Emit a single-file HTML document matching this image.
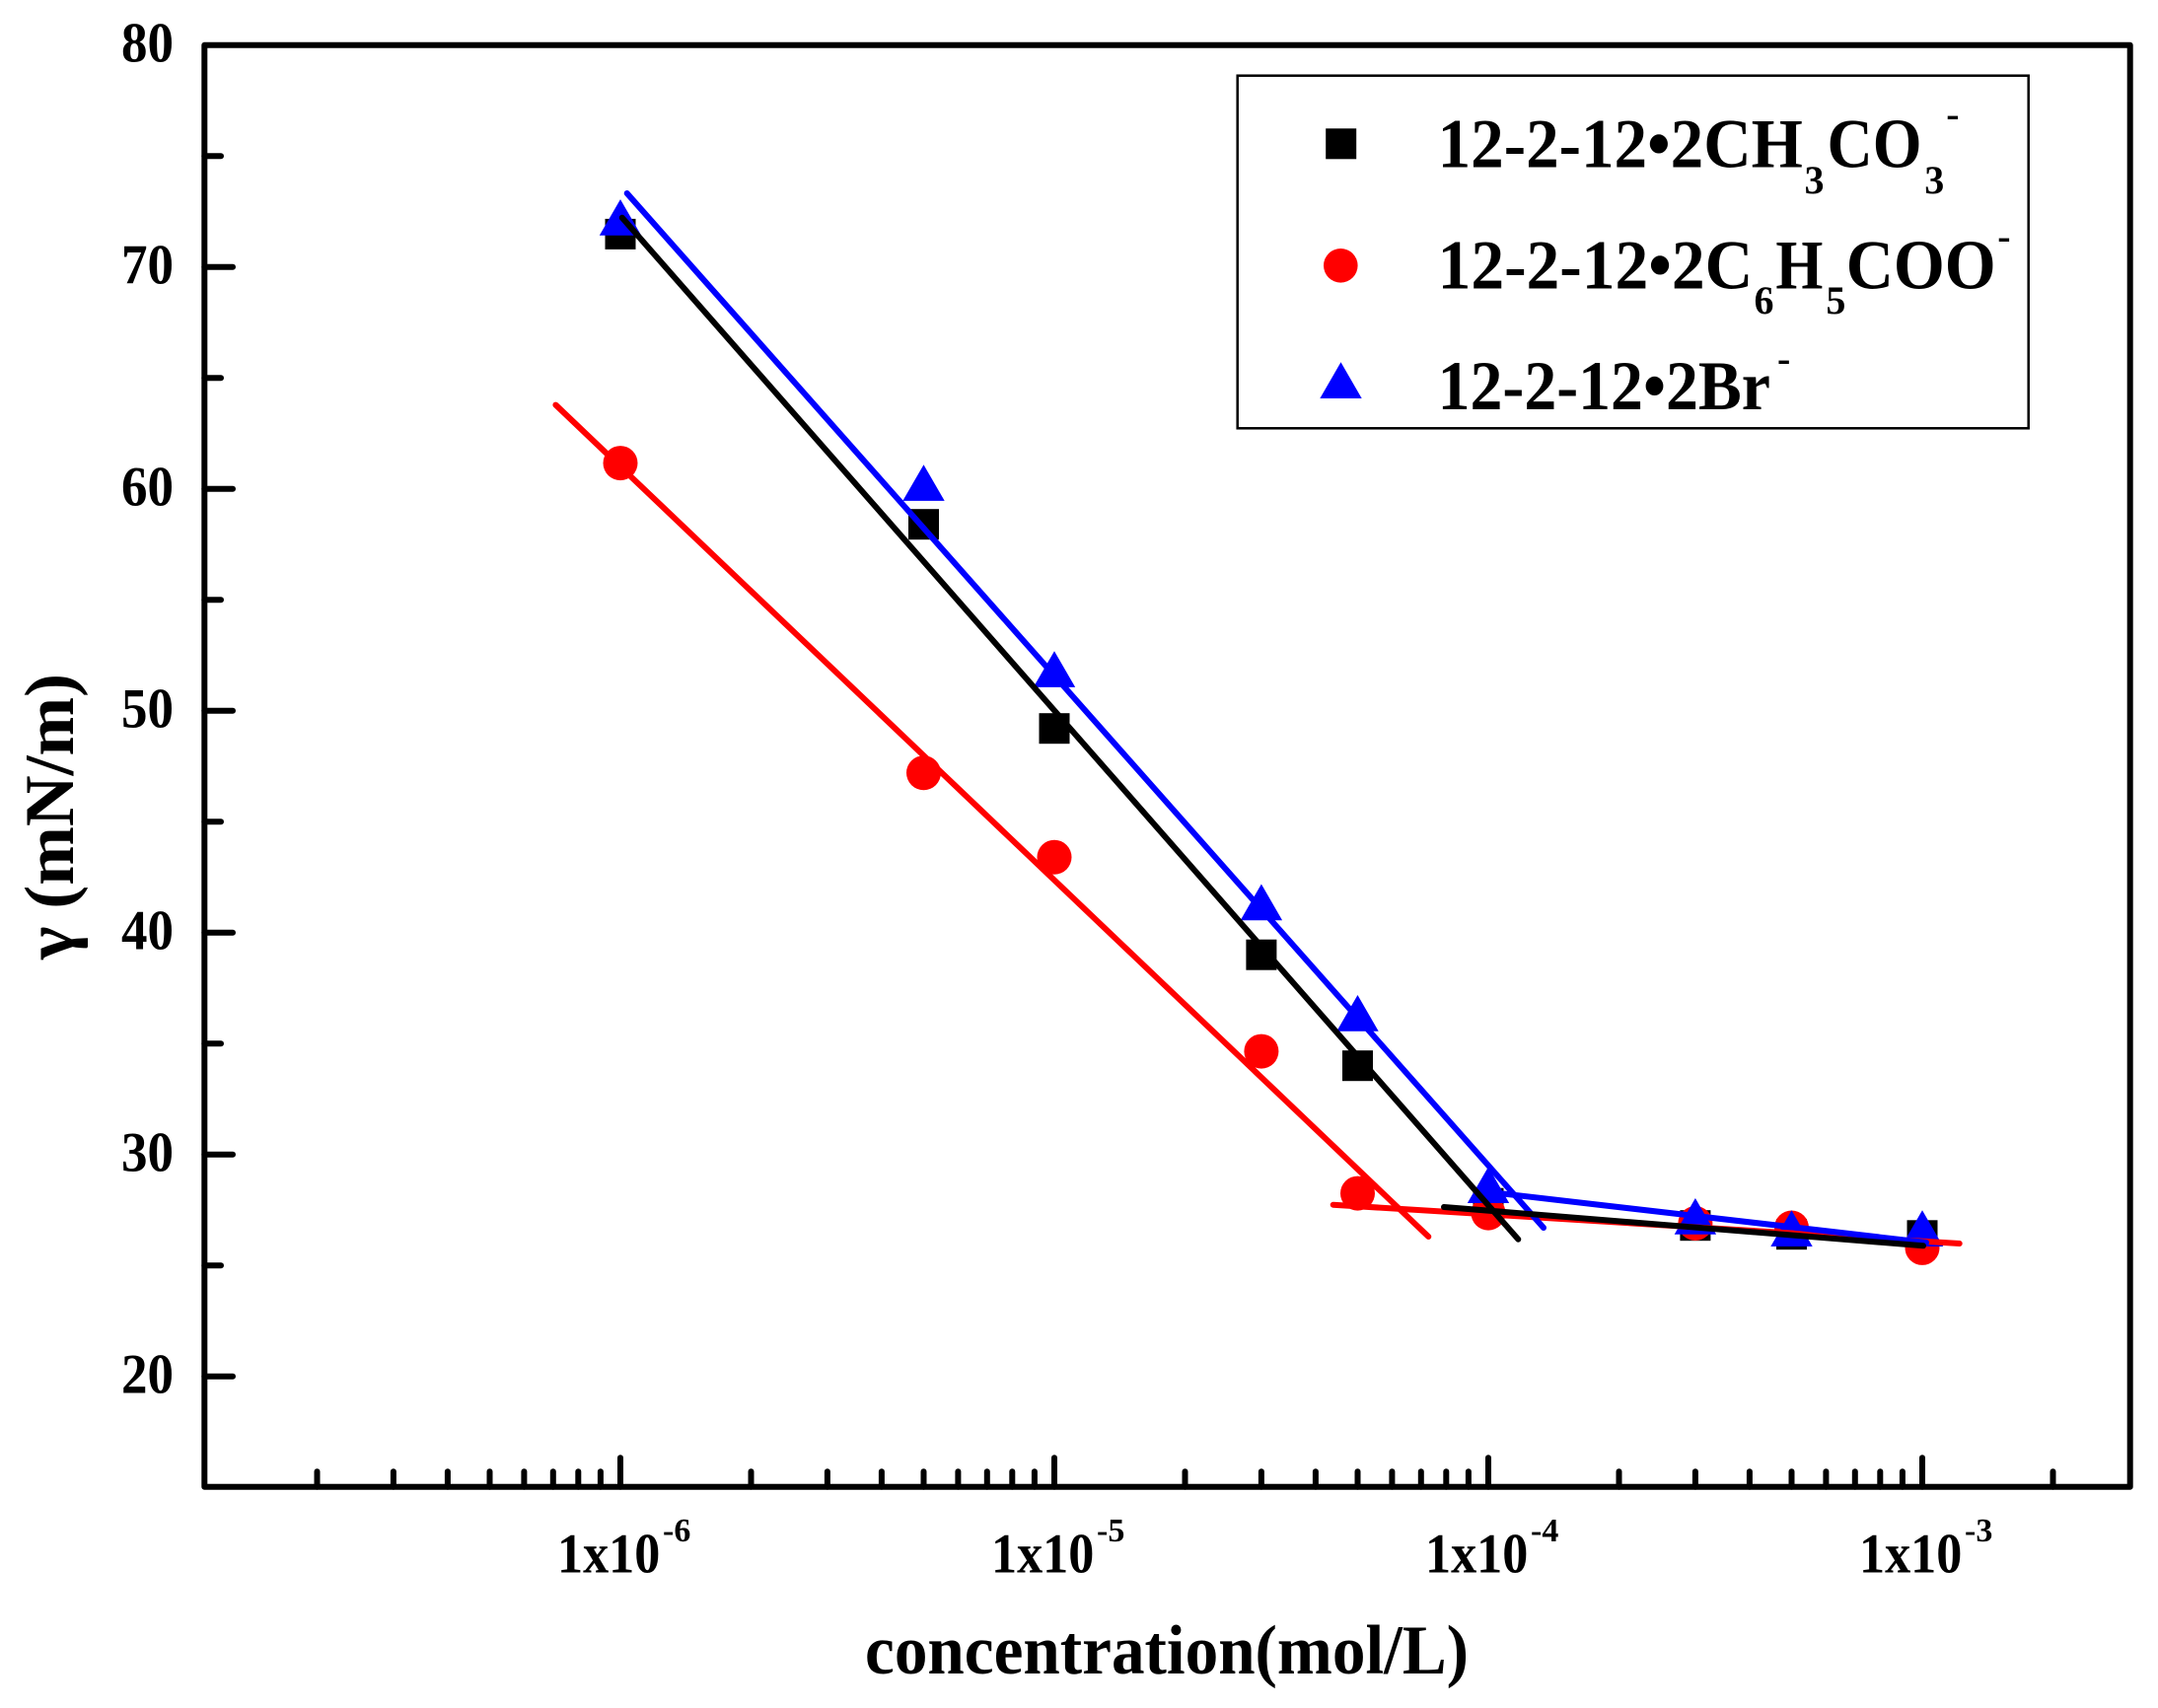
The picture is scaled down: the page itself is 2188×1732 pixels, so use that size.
<!DOCTYPE html>
<html><head><meta charset="utf-8"><style>
html,body{margin:0;padding:0;background:#fff;}
svg{display:block;}
text{font-family:"Liberation Serif","Times New Roman",serif;font-weight:bold;fill:#000;}
</style></head><body>
<svg xmlns="http://www.w3.org/2000/svg" width="2188" height="1732" viewBox="0 0 2188 1732">
<rect x="0" y="0" width="2188" height="1732" fill="#fff"/>

<!-- Y ticks -->
<g stroke="#000" stroke-width="6" stroke-linecap="round">
<line x1="207.3" y1="270.7" x2="236" y2="270.7"/>
<line x1="207.3" y1="495.7" x2="236" y2="495.7"/>
<line x1="207.3" y1="720.7" x2="236" y2="720.7"/>
<line x1="207.3" y1="945.7" x2="236" y2="945.7"/>
<line x1="207.3" y1="1170.7" x2="236" y2="1170.7"/>
<line x1="207.3" y1="1395.7" x2="236" y2="1395.7"/>
<line x1="207.3" y1="158.2" x2="224" y2="158.2"/>
<line x1="207.3" y1="383.2" x2="224" y2="383.2"/>
<line x1="207.3" y1="608.2" x2="224" y2="608.2"/>
<line x1="207.3" y1="833.2" x2="224" y2="833.2"/>
<line x1="207.3" y1="1058.2" x2="224" y2="1058.2"/>
<line x1="207.3" y1="1283.2" x2="224" y2="1283.2"/>
</g>

<!-- X ticks -->
<g stroke="#000" stroke-width="6" stroke-linecap="round">
<line x1="629" y1="1507.7" x2="629" y2="1478.3"/>
<line x1="1069" y1="1507.7" x2="1069" y2="1478.3"/>
<line x1="1509" y1="1507.7" x2="1509" y2="1478.3"/>
<line x1="1949" y1="1507.7" x2="1949" y2="1478.3"/>
<line x1="321.5" y1="1507.7" x2="321.5" y2="1492.3"/>
<line x1="398.9" y1="1507.7" x2="398.9" y2="1492.3"/>
<line x1="453.9" y1="1507.7" x2="453.9" y2="1492.3"/>
<line x1="496.5" y1="1507.7" x2="496.5" y2="1492.3"/>
<line x1="531.4" y1="1507.7" x2="531.4" y2="1492.3"/>
<line x1="560.8" y1="1507.7" x2="560.8" y2="1492.3"/>
<line x1="586.3" y1="1507.7" x2="586.3" y2="1492.3"/>
<line x1="608.9" y1="1507.7" x2="608.9" y2="1492.3"/>
<line x1="761.5" y1="1507.7" x2="761.5" y2="1492.3"/>
<line x1="838.9" y1="1507.7" x2="838.9" y2="1492.3"/>
<line x1="893.9" y1="1507.7" x2="893.9" y2="1492.3"/>
<line x1="936.5" y1="1507.7" x2="936.5" y2="1492.3"/>
<line x1="971.4" y1="1507.7" x2="971.4" y2="1492.3"/>
<line x1="1000.8" y1="1507.7" x2="1000.8" y2="1492.3"/>
<line x1="1026.3" y1="1507.7" x2="1026.3" y2="1492.3"/>
<line x1="1048.9" y1="1507.7" x2="1048.9" y2="1492.3"/>
<line x1="1201.5" y1="1507.7" x2="1201.5" y2="1492.3"/>
<line x1="1278.9" y1="1507.7" x2="1278.9" y2="1492.3"/>
<line x1="1333.9" y1="1507.7" x2="1333.9" y2="1492.3"/>
<line x1="1376.5" y1="1507.7" x2="1376.5" y2="1492.3"/>
<line x1="1411.4" y1="1507.7" x2="1411.4" y2="1492.3"/>
<line x1="1440.8" y1="1507.7" x2="1440.8" y2="1492.3"/>
<line x1="1466.3" y1="1507.7" x2="1466.3" y2="1492.3"/>
<line x1="1488.9" y1="1507.7" x2="1488.9" y2="1492.3"/>
<line x1="1641.5" y1="1507.7" x2="1641.5" y2="1492.3"/>
<line x1="1718.9" y1="1507.7" x2="1718.9" y2="1492.3"/>
<line x1="1773.9" y1="1507.7" x2="1773.9" y2="1492.3"/>
<line x1="1816.5" y1="1507.7" x2="1816.5" y2="1492.3"/>
<line x1="1851.4" y1="1507.7" x2="1851.4" y2="1492.3"/>
<line x1="1880.8" y1="1507.7" x2="1880.8" y2="1492.3"/>
<line x1="1906.3" y1="1507.7" x2="1906.3" y2="1492.3"/>
<line x1="1928.9" y1="1507.7" x2="1928.9" y2="1492.3"/>
<line x1="2081.5" y1="1507.7" x2="2081.5" y2="1492.3"/>
</g>

<!-- Frame -->
<rect x="207.3" y="45.7" width="1952.4" height="1462" fill="none" stroke="#000" stroke-width="6" stroke-linejoin="round"/>

<!-- Y tick labels -->
<g font-size="57" text-anchor="end">
<text x="176" y="62.5" textLength="53" lengthAdjust="spacingAndGlyphs">80</text>
<text x="176" y="287.5" textLength="53" lengthAdjust="spacingAndGlyphs">70</text>
<text x="176" y="512.5" textLength="53" lengthAdjust="spacingAndGlyphs">60</text>
<text x="176" y="737.5" textLength="53" lengthAdjust="spacingAndGlyphs">50</text>
<text x="176" y="962.5" textLength="53" lengthAdjust="spacingAndGlyphs">40</text>
<text x="176" y="1187.5" textLength="53" lengthAdjust="spacingAndGlyphs">30</text>
<text x="176" y="1412.5" textLength="53" lengthAdjust="spacingAndGlyphs">20</text>
</g>

<!-- X tick labels -->
<g>
<text x="565" y="1594.3" font-size="57" textLength="104.3" lengthAdjust="spacingAndGlyphs">1x10</text>
<text x="672" y="1563" font-size="34">-6</text>
<text x="1005" y="1594.3" font-size="57" textLength="104.3" lengthAdjust="spacingAndGlyphs">1x10</text>
<text x="1112" y="1563" font-size="34">-5</text>
<text x="1445" y="1594.3" font-size="57" textLength="104.3" lengthAdjust="spacingAndGlyphs">1x10</text>
<text x="1552" y="1563" font-size="34">-4</text>
<text x="1885" y="1594.3" font-size="57" textLength="104.3" lengthAdjust="spacingAndGlyphs">1x10</text>
<text x="1992" y="1563" font-size="34">-3</text>
</g>

<!-- Axis titles -->
<text x="877" y="1697" font-size="71" textLength="612" lengthAdjust="spacingAndGlyphs">concentration(mol/L)</text>
<text transform="translate(74,828) rotate(-90)" x="0" y="0" font-size="71" text-anchor="middle" textLength="290" lengthAdjust="spacingAndGlyphs">γ (mN/m)</text>

<!-- Markers: black squares -->
<g fill="#000">
<rect x="613.5" y="221.9" width="31" height="31"/>
<rect x="921" y="516.2" width="31" height="31"/>
<rect x="1053.5" y="723.2" width="31" height="31"/>
<rect x="1263.4" y="952.7" width="31" height="31"/>
<rect x="1361" y="1065.2" width="31" height="31"/>
<rect x="1493.5" y="1204.7" width="31" height="31"/>
<rect x="1703.4" y="1227.2" width="31" height="31"/>
<rect x="1801" y="1236.2" width="31" height="31"/>
<rect x="1933.5" y="1237.3" width="31" height="31"/>
</g>
<!-- red circles -->
<g fill="#ff0000">
<circle cx="629" cy="469.6" r="17.5"/>
<circle cx="936.5" cy="783.7" r="17.5"/>
<circle cx="1069" cy="869.2" r="17.5"/>
<circle cx="1278.9" cy="1066.1" r="17.5"/>
<circle cx="1376.5" cy="1210.1" r="17.5"/>
<circle cx="1509" cy="1230.1" r="17.5"/>
<circle cx="1718.9" cy="1240.5" r="17.5"/>
<circle cx="1816.5" cy="1245" r="17.5"/>
<circle cx="1949" cy="1265.4" r="17.5"/>
</g>
<!-- blue triangles -->
<g fill="#0000ff">
<path d="M629,202.1 L650.2,238.8 L607.8,238.8 Z"/>
<path d="M936.5,471.2 L957.7,507.9 L915.3,507.9 Z"/>
<path d="M1069,660.2 L1090.2,696.9 L1047.8,696.9 Z"/>
<path d="M1278.9,896.5 L1300.1,933.2 L1257.7,933.2 Z"/>
<path d="M1376.5,1009 L1397.7,1045.7 L1355.3,1045.7 Z"/>
<path d="M1509,1183.3 L1530.2,1220 L1487.8,1220 Z"/>
<path d="M1718.9,1215 L1740.1,1251.7 L1697.7,1251.7 Z"/>
<path d="M1816.5,1227.3 L1837.7,1264 L1795.3,1264 Z"/>
<path d="M1949,1227.3 L1970.2,1264 L1927.8,1264 Z"/>
</g>

<!-- Fit lines -->
<g stroke-width="6" stroke-linecap="round" fill="none">
<line x1="563.4" y1="410.6" x2="1448.3" y2="1254" stroke="#ff0000"/>
<line x1="1351.7" y1="1221.7" x2="1986.7" y2="1261" stroke="#ff0000"/>
<line x1="635.7" y1="196" x2="1565" y2="1245" stroke="#0000ff"/>
<line x1="1515" y1="1209.5" x2="1953" y2="1260" stroke="#0000ff"/>
<line x1="630.8" y1="220.8" x2="1539.3" y2="1256.7" stroke="#000"/>
<line x1="1464" y1="1224" x2="1950" y2="1263.3" stroke="#000"/>
</g>

<!-- Legend -->
<rect x="1254.7" y="76.7" width="802" height="357.6" fill="#fff" stroke="#000" stroke-width="2.5"/>
<rect x="1344.2" y="130.3" width="31" height="31" fill="#000"/>
<circle cx="1359.3" cy="269.3" r="17.3" fill="#ff0000"/>
<path d="M1359.5,367.3 L1380.7,404 L1338.3,404 Z" fill="#0000ff"/>

<g>
<text x="1457.6" y="169.3" font-size="71" textLength="370.3" lengthAdjust="spacingAndGlyphs">12-2-12•2CH</text>
<text x="1829.5" y="196" font-size="40">3</text>
<text x="1852.5" y="169.3" font-size="71" textLength="96" lengthAdjust="spacingAndGlyphs">CO</text>
<text x="1951.3" y="196" font-size="40">3</text>
<text x="1973.2" y="129" font-size="40">-</text>

<text x="1457.6" y="292.3" font-size="71" textLength="319.8" lengthAdjust="spacingAndGlyphs">12-2-12•2C</text>
<text x="1778.5" y="318" font-size="40">6</text>
<text x="1800.4" y="292.3" font-size="71" textLength="48" lengthAdjust="spacingAndGlyphs">H</text>
<text x="1851.4" y="318" font-size="40">5</text>
<text x="1871.7" y="292.3" font-size="71" textLength="152" lengthAdjust="spacingAndGlyphs">COO</text>
<text x="2025.3" y="253" font-size="40">-</text>

<text x="1457.6" y="415" font-size="71" textLength="337.4" lengthAdjust="spacingAndGlyphs">12-2-12•2Br</text>
<text x="1802" y="377" font-size="40">-</text>
</g>
</svg>
</body></html>
